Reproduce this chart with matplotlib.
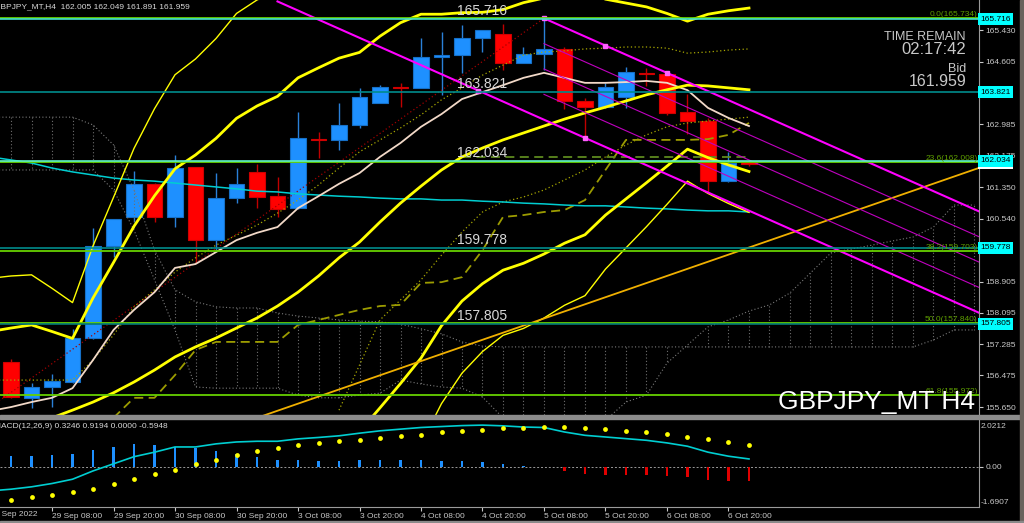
import matplotlib
matplotlib.use("Agg")
import matplotlib.pyplot as plt
import numpy as np
from matplotlib.patches import Rectangle
from matplotlib.transforms import blended_transform_factory as blend

plt.rcParams['font.family'] = ['Liberation Sans', 'DejaVu Sans']

W, H = 1024, 523

# ---- candles (H4, bar 0 = 29 Sep 00:00, bar 36 = 7 Oct 00:00) ----
opens  = [156.82, 155.88, 156.17, 156.30, 157.44, 159.83, 160.58, 161.44, 160.58, 161.88,
          159.98, 161.07, 161.75, 161.12, 160.81, 162.60, 162.58, 162.97, 163.54, 163.95,
          163.93, 164.73, 164.78, 165.22, 165.33, 164.58, 164.81, 164.94, 163.59, 163.43,
          163.69, 164.32, 164.29, 163.30, 163.07, 161.51, 162.005]
highs  = [156.90, 156.27, 156.51, 157.68, 160.30, 160.53, 161.77, 161.45, 162.19, 161.89,
          161.72, 161.85, 161.96, 161.62, 163.30, 162.79, 163.54, 163.93, 164.00, 164.06,
          165.22, 165.38, 165.56, 165.44, 165.59, 164.99, 165.734, 164.99, 163.67, 164.06,
          164.47, 164.45, 164.34, 163.77, 163.15, 162.27, 162.049]
lows   = [155.88, 155.63, 155.65, 156.28, 157.42, 159.54, 160.45, 160.45, 160.32, 159.41,
          159.72, 160.94, 160.81, 160.58, 160.80, 162.11, 162.32, 162.89, 163.53, 163.43,
          163.92, 163.75, 164.32, 164.86, 164.39, 164.57, 164.39, 163.38, 162.63, 163.42,
          163.41, 163.98, 163.23, 162.73, 161.20, 161.50, 161.891]
closes = [155.91, 156.17, 156.33, 157.44, 159.83, 160.52, 161.44, 160.58, 161.85, 159.98,
          161.07, 161.44, 161.10, 160.79, 162.63, 162.58, 162.97, 163.69, 163.95, 163.93,
          164.73, 164.78, 165.22, 165.43, 164.58, 164.81, 164.94, 163.59, 163.43, 163.95,
          164.34, 164.29, 163.28, 163.07, 161.51, 161.98, 161.959]

# ---- indicator lines, bars -1 .. 36 ----
bb_mid = [154.85, 155.00, 155.18, 155.37, 155.57, 155.78, 156.02, 156.30, 156.61, 156.95,
          157.21, 157.44, 157.70, 157.96, 158.27, 158.63, 159.05, 159.52, 159.93, 160.45,
          160.94, 161.38, 161.80, 162.14, 162.37, 162.58, 162.76, 162.94, 163.12, 163.28,
          163.43, 163.59, 163.75, 163.88, 164.00, 163.98, 163.93, 163.88]
bb_dev = [1.38, 1.35, 1.30, 1.12, 0.93, 1.35, 1.69, 2.02, 2.26, 2.44,
          2.49, 2.59, 2.72, 2.75, 2.72, 2.78, 2.70, 2.59, 2.46, 2.41,
          2.34, 2.23, 2.02, 1.87, 1.76, 1.69, 1.69, 1.66, 1.61, 1.58,
          1.40, 1.27, 1.14, 0.99, 0.83, 0.93, 1.00, 1.06]
ma_white = [155.55, 155.65, 155.78, 155.89, 156.14, 156.87, 157.65, 158.17, 158.63, 159.26,
            159.36, 159.67, 159.98, 160.17, 160.32, 160.81, 161.12, 161.44, 161.72, 162.14,
            162.50, 162.92, 163.25, 163.64, 163.82, 164.00, 164.19, 164.32, 164.19, 164.06,
            164.06, 164.08, 164.11, 164.06, 163.87, 163.41, 163.15, 162.94]
ma_cyan = [162.14, 162.06, 161.98, 161.85, 161.75, 161.67, 161.59, 161.54, 161.51, 161.46,
           161.41, 161.36, 161.31, 161.25, 161.23, 161.18, 161.15, 161.12, 161.10, 161.07,
           161.05, 161.05, 161.02, 161.02, 160.99, 160.97, 160.94, 160.92, 160.89, 160.87,
           160.87, 160.84, 160.81, 160.79, 160.76, 160.74, 160.74, 160.71]
dot_hi = [156.35, 156.35, 156.35, 156.35, 156.35, 156.87, 157.52, 158.25, 158.69, 159.15,
          159.52, 159.85, 160.11, 160.37, 160.68, 161.02, 161.41, 161.85, 162.27, 162.58,
          162.89, 163.23, 163.62, 163.93, 164.26, 164.52, 164.78, 164.86, 164.89, 164.94,
          164.96, 164.99, 164.99, 164.96, 164.83, 164.86, 164.91, 164.94]
# bars 16 .. 36
dot_lo = [155.57, 156.74, 157.91, 158.43, 158.95, 159.59, 160.19, 160.71, 160.97, 161.10,
          161.28, 161.54, 161.80, 162.14, 162.45, 162.71, 162.92, 163.02, 163.07, 163.12, 163.17]
# bars 5 .. 36
kijun = [155.37, 155.89, 155.89, 156.48, 157.13, 157.34, 157.34, 157.34, 157.34, 157.78,
         157.91, 158.04, 158.17, 158.27, 158.30, 158.87, 158.89, 159.02, 159.72, 160.58,
         160.63, 160.71, 160.76, 161.02, 161.80, 162.58, 162.58, 162.58, 162.58, 162.60,
         162.71, 163.02]
# bars 22 .. 36
dash_green = [162.14] * 15

# cloud spans, bars -1 .. 47
span_a = [163.17, 163.17, 163.17, 163.17, 163.17, 162.97, 162.45, 161.28, 159.72, 158.69,
          158.38, 158.25, 158.22, 158.22, 158.09, 158.01, 157.96, 157.91, 157.88, 157.86,
          157.80, 157.68, 157.55, 157.34, 157.23, 157.21, 157.21, 157.21, 157.21, 157.21,
          157.21, 157.21, 157.21, 157.21, 157.21, 157.21, 157.21, 157.21, 157.21, 157.21,
          157.21, 157.21, 157.21, 157.21, 157.21, 157.21, 157.39, 157.65, 157.65]
span_b = [161.80, 161.80, 161.80, 161.80, 161.80, 161.80, 161.28, 160.24, 158.95, 157.65,
          156.17, 156.14, 156.14, 156.14, 156.14, 155.96, 155.89, 155.89, 155.96, 156.01,
          156.35, 156.25, 156.17, 156.14, 155.91, 155.37, 155.05, 155.05, 155.05, 155.05,
          155.31, 155.78, 155.96, 156.79, 157.26, 157.73, 157.91, 158.14, 158.30, 158.61,
          159.13, 159.65, 159.75, 159.85, 159.96, 160.06, 160.32, 160.89, 160.89]

# ---- objects ----
user_lines = [165.716, 163.821, 162.034, 159.778, 157.805]
user_colors = ['#40E0D0', '#008C8C', '#5CF0C8', '#008C8C', '#007878']
fib_levels = [165.734, 162.008, 159.703, 157.840, 155.972]
fib_names = ['0.0', '23.6', '38.2', '50.0', '61.8']
fib_anchor = (-16.3, 149.946, 26, 165.734)
trend_bars = [12.0, 47.2]
trend_prices = [155.37, 161.85]
chan_bar0, chan_top0, chan_slope, chan_width = 26, 165.734, -0.236, 2.63

# ---- MACD(12,26,9) ----
macd_line = [-1.02, -0.95, -0.85, -0.71, -0.53, -0.18, 0.12, 0.42, 0.61, 0.83, 0.83,
             0.96, 1.04, 1.07, 1.07, 1.17, 1.23, 1.30, 1.41, 1.51, 1.58,
             1.65, 1.69, 1.73, 1.75, 1.72, 1.67, 1.65, 1.46, 1.32, 1.25,
             1.18, 1.11, 1.00, 0.86, 0.61, 0.44, 0.3246]
macd_signal = [-1.39, -1.26, -1.18, -1.06, -0.93, -0.74, -0.53, -0.32, -0.13, 0.10,
               0.28, 0.47, 0.65, 0.79, 0.90, 0.98, 1.07, 1.14, 1.21, 1.28,
               1.35, 1.44, 1.51, 1.55, 1.61, 1.64, 1.67, 1.67, 1.64, 1.58,
               1.52, 1.46, 1.37, 1.26, 1.15, 1.03, 0.9194]
macd_hist = [0.46, 0.46, 0.50, 0.55, 0.72, 0.84, 0.97, 0.93, 0.84, 0.80,
             0.68, 0.55, 0.42, 0.28, 0.27, 0.25, 0.23, 0.27, 0.30, 0.30,
             0.30, 0.25, 0.22, 0.19, 0.10, 0.03, -0.03, -0.20, -0.32, -0.37,
             -0.37, -0.37, -0.40, -0.44, -0.55, -0.59, -0.5948]

price_ticks = [165.430, 164.605, 162.985, 162.175, 161.350, 160.540,
               158.905, 158.095, 157.285, 156.475, 155.650]
time_ticks = [2, 5, 8, 11, 14, 17, 20, 23, 26, 29, 32, 35]
time_labels = ['29 Sep 08:00', '29 Sep 20:00', '30 Sep 08:00', '30 Sep 20:00',
               '3 Oct 08:00', '3 Oct 20:00', '4 Oct 08:00', '4 Oct 20:00',
               '5 Oct 08:00', '5 Oct 20:00', '6 Oct 08:00', '6 Oct 20:00']


def px_rect(x0, y0, x1, y1):
    return [x0 / W, 1 - y1 / H, (x1 - x0) / W, (y1 - y0) / H]


fig = plt.figure(figsize=(W / 100, H / 100), dpi=100, facecolor='black')
ax = fig.add_axes(px_rect(0, 0, 979, 415), facecolor='black')
axm = fig.add_axes(px_rect(0, 418, 979, 507), facecolor='black')

xlim = (-0.537, 47.22)
ax.set_xlim(*xlim)
ax.set_ylim(155.444, 166.209)
axm.set_xlim(*xlim)
axm.set_ylim(-1.70, 2.05)

n = len(opens)
bars = np.arange(n)
ind = np.arange(-1, n)

# candles
for i in range(n):
    o, h, l, c = opens[i], highs[i], lows[i], closes[i]
    up = c > o
    body = '#1E90FF' if up else '#FF0000'
    edge = '#1670C8' if up else '#D00000'
    wick = '#2A80D8' if up else '#C00000'
    ax.vlines(i, l, h, color=wick, lw=1.0, zorder=2)
    ax.add_patch(Rectangle((i - 0.38, min(o, c)), 0.76, max(abs(c - o), 0.035),
                           facecolor=body, edgecolor=edge, lw=0.8, zorder=2.1))

# ichimoku-like cloud (dotted)
cb = np.arange(-1, -1 + len(span_a))
ax.plot(cb, span_a, color='#7a7a7a', ls=(0, (1, 2)), lw=0.8, zorder=3)
ax.plot(cb, span_b, color='#7a7a7a', ls=(0, (1, 2)), lw=0.8, zorder=3)
ax.vlines(cb, span_a, span_b, color='#6e6e6e', linestyles=(0, (1, 2)), lw=0.8, zorder=3)

# dotted / dashed olive lines
ax.plot(ind, dot_hi, color='#A8A800', ls=(0, (1, 2)), lw=0.9, zorder=3.5)
ax.plot(np.arange(16, 37), dot_lo, color='#A8A800', ls=(0, (1, 2)), lw=0.9, zorder=3.5)
ax.plot(np.arange(5, 37), kijun, color='#9C9C00', ls=(0, (5, 3)), lw=1.3, zorder=3.5)
ax.plot(np.arange(22, 37), dash_green, color='#5E8A1E', ls=(0, (5, 3)), lw=1.3, zorder=3.5)

# fibonacci base line
ax.plot([fib_anchor[0], fib_anchor[2]], [fib_anchor[1], fib_anchor[3]],
        color='#A00000', ls=(0, (1, 2)), lw=0.9, zorder=3.5)

# moving averages
ax.plot(ind, ma_cyan, color='#00CED1', lw=1.1, zorder=4)
ax.plot(ind, ma_white, color='#F2D9C8', lw=1.3, zorder=4)

# bollinger bands
mid = np.array(bb_mid)
dev = np.array(bb_dev)
ax.plot(ind, mid, color='#FFFF00', lw=2.0, zorder=4.5)
ax.plot(ind, mid + 2 * dev, color='#FFFF00', lw=2.0, zorder=4.5)
ax.plot(ind, mid - 2 * dev, color='#FFFF00', lw=2.0, zorder=4.5)
ax.plot(ind, mid + 3 * dev, color='#FFFF00', lw=1.0, zorder=4.5)
ax.plot(ind, mid - 3 * dev, color='#FFFF00', lw=1.0, zorder=4.5)

# trend line
ax.plot(trend_bars, trend_prices, color='#F0B000', lw=1.3, zorder=5)

# equidistant channel
xe = 47.5
top = lambda b: chan_top0 + chan_slope * (b - chan_bar0)
ax.plot([chan_bar0, xe], [top(chan_bar0), top(xe)], color='#FF00FF', lw=1.5, zorder=5)
ax.plot([13, xe], [top(13) - chan_width, top(xe) - chan_width], color='#FF00FF', lw=1.5, zorder=5)
for k in (0.25, 0.5, 0.75):
    ax.plot([chan_bar0, xe], [top(chan_bar0) - k * chan_width, top(xe) - k * chan_width],
            color='#C000C0', lw=0.8, zorder=5)
ax.plot([26, 29, 32], [top(26), top(29), top(32)], 's', color='#FF60FF', ms=2.5, zorder=5.1)
ax.plot([22.8, 28], [top(22.8) - chan_width, top(28) - chan_width], 's', color='#FF60FF',
        ms=2.5, zorder=5.1)

# fibonacci levels and horizontal lines
tr = blend(ax.transAxes, ax.transData)
for lv, nm in zip(fib_levels, fib_names):
    ax.axhline(lv, color='#66D000', lw=1.3, zorder=6)
    ax.text(0.9985, lv, f'{nm}({lv:.3f})', transform=tr, ha='right', va='bottom',
            fontsize=6, color='#5E9E00', zorder=10)
for lv, col in zip(user_lines, user_colors):
    ax.axhline(lv, color=col, lw=1.2, zorder=6)
    ax.annotate(f'{lv:.3f}', xy=(457 / 979, lv), xycoords=tr, xytext=(0, 0.5),
                textcoords='offset points', ha='left', va='bottom', fontsize=10,
                color='#D8D8D8', zorder=10)

# right price scale
ax.yaxis.tick_right()
ax.set_yticks(price_ticks)
ax.set_yticklabels([f'{v:.3f}' for v in price_ticks])
ax.tick_params(axis='y', colors='#C8C8C8', labelsize=6, length=3, width=0.8, pad=1.5)
ax.set_xticks([])
for s in ('top', 'left', 'bottom'):
    ax.spines[s].set_visible(False)
ax.spines['right'].set_color('#9a9a9a')

ax.text(1.0015, 161.959, '161.959', transform=tr, ha='left', va='center', fontsize=6,
        color='black', bbox=dict(boxstyle='square,pad=0.25', fc='white', ec='none'),
        zorder=11, clip_on=False)
for lv in user_lines:
    ax.text(1.0015, lv, f'{lv:.3f}', transform=tr, ha='left', va='center', fontsize=6,
            color='black', bbox=dict(boxstyle='square,pad=0.25', fc='#00FFFF', ec='none'),
            zorder=12, clip_on=False)

# MACD panel
cols = ['#1E90FF' if v >= 0 else '#E00000' for v in macd_hist]
axm.bar(bars, macd_hist, width=0.1, color=cols, zorder=3)
axm.axhline(0, color='#9a9a9a', ls=(0, (2, 2)), lw=0.7, zorder=2)
axm.plot(ind, macd_line, color='#00CED1', lw=1.2, zorder=4)
axm.scatter(bars, macd_signal, s=12, color='#FFFF00', zorder=5, linewidths=0)
axm.yaxis.tick_right()
axm.set_yticks([0])
axm.set_yticklabels(['0.00'])
axm.tick_params(axis='y', colors='#C8C8C8', labelsize=6, length=3, width=0.8, pad=1.5)
axm.set_xticks(time_ticks)
axm.set_xticklabels(time_labels, ha='left')
axm.tick_params(axis='x', colors='#C8C8C8', labelsize=6, length=3, width=0.8, pad=1)
for s in ('top', 'left'):
    axm.spines[s].set_visible(False)
axm.spines['right'].set_color('#9a9a9a')
axm.spines['bottom'].set_color('#9a9a9a')

# frame pieces
fig.patches.append(Rectangle((0, 1 - 418.5 / H), 1020 / W, 3.5 / H, transform=fig.transFigure,
                             color='#8c8c8c', zorder=1))
fig.patches.append(Rectangle((1020 / W, 0), 4 / W, 1, transform=fig.transFigure,
                             color='#6a625c', zorder=1))
fig.patches.append(Rectangle((0, 0), 1, 2.5 / H, transform=fig.transFigure,
                             color='#8a8a8a', zorder=1))

# texts
def ftext(x, y, s, **kw):
    fig.text(x / W, 1 - y / H, s, **kw)

ftext(-5.5, 6.5, 'GBPJPY_MT,H4  162.005 162.049 161.891 161.959', fontsize=6,
      color='#D8D8D8', va='center')
ftext(-5.5, 427, 'MACD(12,26,9) 0.3246 0.9194 0.0000 -0.5948', fontsize=6,
      color='#D8D8D8', va='center')
ftext(981, 426, '2.0212', fontsize=6, color='#C8C8C8', va='center')
ftext(981, 502, '-1.6907', fontsize=6, color='#C8C8C8', va='center')
ftext(-10, 514, '28 Sep 2022', fontsize=6, color='#C8C8C8', va='center')

ftext(966, 36.5, 'TIME REMAIN', fontsize=9, color='#C8C8C8', ha='right', va='center')
ftext(966, 50, '02:17:42', fontsize=12, color='#C8C8C8', ha='right', va='center')
ftext(966, 68.5, 'Bid', fontsize=9, color='#C8C8C8', ha='right', va='center')
ftext(966, 82, '161.959', fontsize=11.5, color='#C8C8C8', ha='right', va='center')
ftext(975, 402, 'GBPJPY_MT H4', fontsize=19, color='white', ha='right', va='center')

fig.savefig('out.png', dpi=100, facecolor='black')
